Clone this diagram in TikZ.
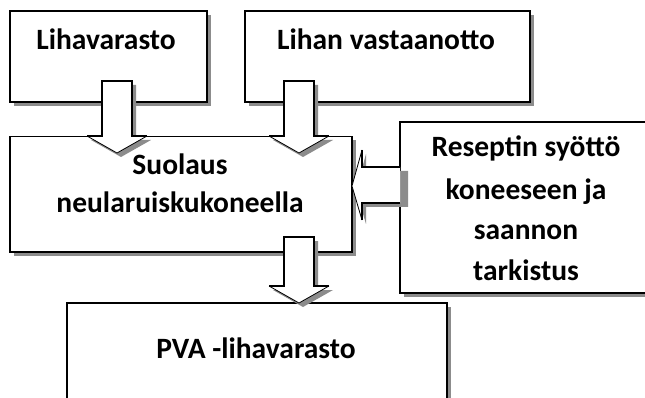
\documentclass[tikz,border=0pt]{standalone}
\usepackage{fontspec}
\setmainfont{Carlito}
\usetikzlibrary{shadows,calc}
\definecolor{shadowgray}{HTML}{8C8C8C}

% block arrow pointing down, from shaft top #1 to tip #2
\newcommand\blkdown[2]{%
  \fill[shadowgray, transform canvas={shift={(4pt,-4pt)}}] let \p1=(#1), \p2=(#2) in
    (\x1-15pt,\y1) -- (\x1+15pt,\y1) -- (\x1+15pt,\y2+17pt) -- (\x1+30pt,\y2+17pt)
    -- (\x1,\y2) -- (\x1-30pt,\y2+17pt) -- (\x1-15pt,\y2+17pt) -- cycle;
  \fill[white] let \p1=(#1), \p2=(#2) in
    (\x1-15pt,\y1) -- (\x1+15pt,\y1) -- (\x1+15pt,\y2+17pt) -- (\x1+30pt,\y2+17pt)
    -- (\x1,\y2) -- (\x1-30pt,\y2+17pt) -- (\x1-15pt,\y2+17pt) -- cycle;
  \draw[arrline] let \p1=(#1), \p2=(#2) in
    (\x1-30pt,\y2+17pt) -- (\x1-15pt,\y2+17pt) -- (\x1-15pt,\y1) -- (\x1+15pt,\y1)
    -- (\x1+15pt,\y2+17pt) -- (\x1+30pt,\y2+17pt);
  \draw[headline] let \p1=(#1), \p2=(#2) in
    (\x1+30pt,\y2+17pt) -- (\x1,\y2) -- (\x1-30pt,\y2+17pt);
}
% block arrow pointing left, shaft starting at #1, tip at #2
\newcommand\blkleft[2]{%
  \fill[shadowgray, transform canvas={shift={(4pt,-4pt)}}] let \p1=(#1), \p2=(#2) in
    (\x1+4pt,\y1+18pt) -- (\x2+10pt,\y1+18pt) -- (\x2+10pt,\y1+35pt) -- (\x2,\y2)
    -- (\x2+10pt,\y1-35pt) -- (\x2+10pt,\y1-18pt) -- (\x1+4pt,\y1-18pt) -- cycle;
  \fill[white] let \p1=(#1), \p2=(#2) in
    (\x1,\y1+18pt) -- (\x2+10pt,\y1+18pt) -- (\x2+10pt,\y1+35pt) -- (\x2,\y2)
    -- (\x2+10pt,\y1-35pt) -- (\x2+10pt,\y1-18pt) -- (\x1,\y1-18pt) -- cycle;
  \draw[arrline] let \p1=(#1), \p2=(#2) in
    (\x2+10pt,\y1+35pt) -- (\x2+10pt,\y1+18pt) -- (\x1,\y1+18pt);
  \draw[arrline] let \p1=(#1), \p2=(#2) in
    (\x2+10pt,\y1-35pt) -- (\x2+10pt,\y1-18pt) -- (\x1,\y1-18pt);
  \draw[headline] let \p1=(#1), \p2=(#2) in
    (\x2+10pt,\y1+35pt) -- (\x2,\y2) -- (\x2+10pt,\y1-35pt);
}

\begin{document}
\begin{tikzpicture}[x=1pt, y=-1pt,
  box/.style={draw=black, line width=1.3pt, fill=white, rectangle, inner sep=0pt,
    general shadow={fill=shadowgray, shadow xshift=4pt, shadow yshift=-4pt}},
  lbl/.style={anchor=base, inner sep=0pt, font=\fontsize{29.5}{34}\selectfont\bfseries},
  arrline/.style={draw=black, line width=1.3pt},
  headline/.style={draw=black, line width=0.8pt}]
  \useasboundingbox (0,0) rectangle (645,398);
  \clip (0,0) rectangle (645,398);
  \fill[white] (0,0) rectangle (645,398);

  % process boxes
  \node[box, minimum width=197pt, minimum height=91pt]  (b1) at (108.5,56.5) {};
  \node[box, minimum width=285pt, minimum height=91pt]  (b2) at (387.5,56.5) {};
  \node[box, minimum width=342pt, minimum height=115.5pt] (b3) at (181,194.25) {};
  \node[box, minimum width=252pt, minimum height=171pt] (b4) at (526,207.5) {};
  \node[box, minimum width=380pt, minimum height=117pt] (b5) at (257,361.5) {};

  % box texts
  \node[lbl] (t1)  at (106,50)  {Lihavarasto};
  \node[lbl] (t2)  at (386,50)  {Lihan vastaanotto};
  \node[lbl] (t3a) at (180,175) {Suolaus};
  \node[lbl] (t3b) at (180,213) {neularuiskukoneella};
  \node[lbl] (t4a) at (526,157) {Reseptin syöttö};
  \node[lbl] (t4b) at (526,200) {koneeseen ja};
  \node[lbl] (t4c) at (526,240) {saannon};
  \node[lbl] (t4d) at (526,280) {tarkistus};
  \node[lbl] (t5)  at (256,358) {PVA -lihavarasto};

  % arrow end points
  \coordinate (a1t) at (117,81);  \coordinate (a1p) at (117,153);
  \coordinate (a2t) at (299,81);  \coordinate (a2p) at (299,153);
  \coordinate (a3t) at (299,237); \coordinate (a3p) at (299,303);
  \coordinate (a4t) at (400,185); \coordinate (a4p) at (352,186);

  \blkdown{a1t}{a1p}
  \blkdown{a2t}{a2p}
  \blkdown{a3t}{a3p}
  \blkleft{a4t}{a4p}
\end{tikzpicture}
\end{document}
